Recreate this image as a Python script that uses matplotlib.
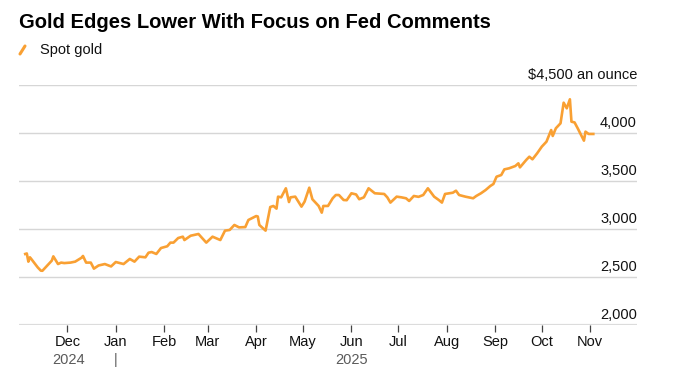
import matplotlib
matplotlib.use("Agg")
import matplotlib.pyplot as plt
import pandas as pd

plt.rcParams['font.family'] = ['Liberation Sans', 'DejaVu Sans']

title = "Gold Edges Lower With Focus on Fed Comments"
series_name = "Spot gold"
unit_label = "$4,500 an ounce"

dates = [
    "2024-11-04", "2024-11-05", "2024-11-06", "2024-11-07", "2024-11-08", "2024-11-12",
    "2024-11-14", "2024-11-15", "2024-11-21", "2024-11-22", "2024-11-25", "2024-11-27",
    "2024-11-29", "2024-12-03", "2024-12-06", "2024-12-10", "2024-12-11", "2024-12-13",
    "2024-12-16", "2024-12-18", "2024-12-21", "2024-12-25", "2024-12-29", "2025-01-01",
    "2025-01-06", "2025-01-10", "2025-01-13", "2025-01-16", "2025-01-20", "2025-01-22",
    "2025-01-24", "2025-01-27", "2025-01-30", "2025-02-03", "2025-02-05", "2025-02-07",
    "2025-02-10", "2025-02-13", "2025-02-14", "2025-02-18", "2025-02-23", "2025-02-28",
    "2025-03-04", "2025-03-09", "2025-03-12", "2025-03-15", "2025-03-18", "2025-03-21",
    "2025-03-25", "2025-03-27", "2025-04-01", "2025-04-02", "2025-04-03", "2025-04-07",
    "2025-04-10", "2025-04-12", "2025-04-14", "2025-04-15", "2025-04-17", "2025-04-20",
    "2025-04-22", "2025-04-23", "2025-04-26", "2025-04-30", "2025-05-02", "2025-05-05",
    "2025-05-07", "2025-05-11", "2025-05-13", "2025-05-14", "2025-05-17", "2025-05-20",
    "2025-05-22", "2025-05-24", "2025-05-27", "2025-05-29", "2025-06-01", "2025-06-04",
    "2025-06-06", "2025-06-09", "2025-06-12", "2025-06-16", "2025-06-22", "2025-06-24",
    "2025-06-26", "2025-06-30", "2025-07-03", "2025-07-06", "2025-07-08", "2025-07-11",
    "2025-07-14", "2025-07-17", "2025-07-20", "2025-07-24", "2025-07-27", "2025-07-29",
    "2025-07-31", "2025-08-05", "2025-08-07", "2025-08-09", "2025-08-13", "2025-08-18",
    "2025-08-20", "2025-08-23", "2025-08-26", "2025-08-29", "2025-08-31", "2025-09-02",
    "2025-09-05", "2025-09-07", "2025-09-10", "2025-09-14", "2025-09-16", "2025-09-17",
    "2025-09-21", "2025-09-23", "2025-09-25", "2025-09-28", "2025-10-01", "2025-10-04",
    "2025-10-07", "2025-10-08", "2025-10-10", "2025-10-13", "2025-10-14", "2025-10-15",
    "2025-10-17", "2025-10-19", "2025-10-20", "2025-10-22", "2025-10-24", "2025-10-28",
    "2025-10-29", "2025-10-31", "2025-11-03",
]
prices = [
    2740, 2745, 2660, 2705, 2685, 2600,
    2566, 2565, 2670, 2715, 2635, 2650,
    2645, 2650, 2660, 2700, 2719, 2650,
    2650, 2587, 2620, 2635, 2610, 2656,
    2635, 2688, 2660, 2712, 2705, 2753,
    2760, 2740, 2802, 2820, 2858, 2858,
    2906, 2920, 2885, 2930, 2948, 2858,
    2920, 2885, 2983, 2990, 3042, 3017,
    3020, 3094, 3135, 3130, 3042, 2983,
    3229, 3240, 3212, 3337, 3330, 3424,
    3281, 3330, 3337, 3233, 3285, 3430,
    3310, 3240, 3170, 3240, 3240, 3320,
    3354, 3354, 3302, 3300, 3372, 3360,
    3310, 3330, 3424, 3372, 3365, 3330,
    3275, 3337, 3330, 3320, 3292, 3344,
    3335, 3354, 3424, 3337, 3302, 3275,
    3365, 3378, 3399, 3354, 3337, 3320,
    3344, 3372, 3406, 3448, 3469, 3545,
    3562, 3621, 3632, 3656, 3684, 3642,
    3719, 3753, 3726, 3788, 3858, 3910,
    4031, 3969, 4049, 4101, 4205, 4316,
    4257, 4351, 4118, 4110, 4049, 3920,
    4014, 3990, 3990,
]
month_ticks = ["2024-12-01", "2025-01-01", "2025-02-01", "2025-03-01", "2025-04-01",
               "2025-05-01", "2025-06-01", "2025-07-01", "2025-08-01", "2025-09-01",
               "2025-10-01", "2025-11-01"]
month_labels = ["Dec", "Jan", "Feb", "Mar", "Apr", "May", "Jun", "Jul", "Aug", "Sep", "Oct", "Nov"]
y_ticks = [2000, 2500, 3000, 3500, 4000, 4500]
y_labels = ["2,000", "2,500", "3,000", "3,500", "4,000", unit_label]

x = pd.to_datetime(dates)
xt = pd.to_datetime(month_ticks)

W, H = 673, 372
fig = plt.figure(figsize=(W / 100, H / 100), dpi=100)
left, right, top, bottom = 19, 637, 85, 325
ax = fig.add_axes([left / W, 1 - bottom / H, (right - left) / W, (bottom - top) / H])

line_color = "#f9a033"
ax.plot(x, prices, color=line_color, lw=1.9, solid_joinstyle="round", zorder=3)

ax.set_xlim(pd.Timestamp("2024-10-31"), pd.Timestamp("2025-12-01"))
ax.set_ylim(y_ticks[0], y_ticks[-1])

for s in ax.spines.values():
    s.set_visible(False)
ax.set_yticks(y_ticks)
ax.set_yticklabels([])
ax.tick_params(axis="y", length=0)
ax.grid(axis="y", color="#d6d6d6", lw=1.0, zorder=1)
ax.axhline(y_ticks[0], color="#dcdcdc", lw=1.6, zorder=2)

for v, lab in zip(y_ticks, y_labels):
    ax.annotate(lab, xy=(1, v), xycoords=("axes fraction", "data"), xytext=(0, 4.3),
                textcoords="offset points", ha="right", va="baseline", fontsize=10.5,
                color="#111111")

ax.set_xticks(xt)
ax.set_xticklabels(month_labels, fontsize=10.5, color="#111111")
ax.tick_params(axis="x", length=5, width=0.9, color="#444444", pad=2.5)

# year labels
trans = ax.get_xaxis_transform()
year_y = -0.115
ax.text(pd.Timestamp("2024-12-02"), year_y, "2024", transform=trans, ha="center", va="top",
        fontsize=10.5, color="#5a5a5a")
ax.text(pd.Timestamp("2025-06-01"), year_y, "2025", transform=trans, ha="center", va="top",
        fontsize=10.5, color="#5a5a5a")
ax.text(pd.Timestamp("2025-01-01"), year_y, "|", transform=trans, ha="center", va="top",
        fontsize=10.5, color="#5a5a5a")

fig.text(19 / W, 1 - 22 / H, title, fontsize=14.5, fontweight="bold", va="center", ha="left",
         color="#000000")
fig.lines.append(plt.Line2D([20 / W, 25 / W], [1 - 54 / H, 1 - 46 / H], transform=fig.transFigure,
                            color=line_color, lw=2.2, solid_capstyle="round"))
fig.text(40 / W, 1 - 50 / H, series_name, fontsize=10.5, va="center", ha="left", color="#111111")

fig.savefig("out.png", dpi=100, facecolor="white")
